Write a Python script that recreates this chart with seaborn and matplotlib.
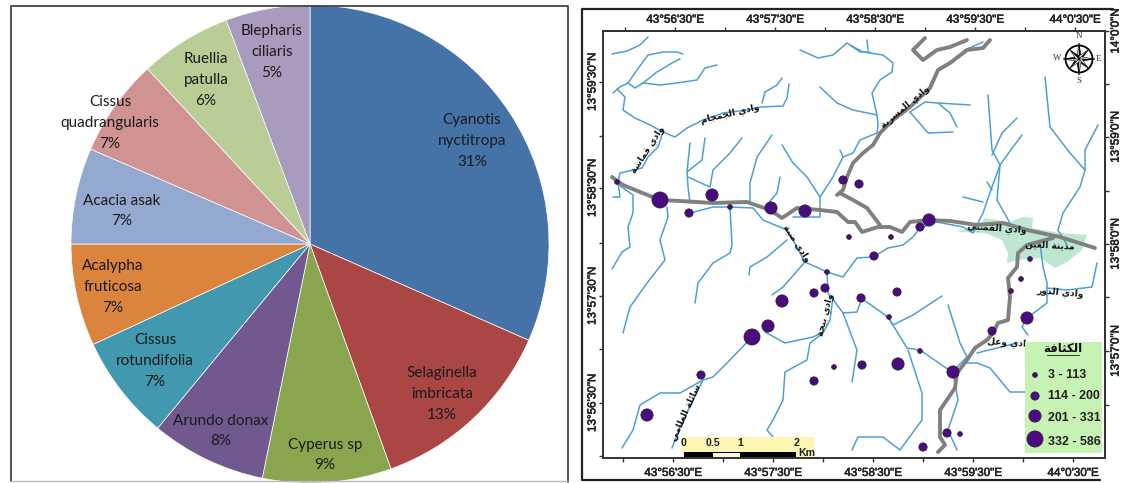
import unicodedata
import numpy as np
import pandas as pd
import seaborn as sns
import matplotlib.pyplot as plt
import matplotlib.patheffects as pe
from matplotlib.patches import Rectangle

# pie values
species = ['Cyanotis\nnyctitropa\n31%', 'Selaginella\nimbricata\n13%', 'Cyperus sp\n9%',
           'Arundo donax\n8%', 'Cissus\nrotundifolia\n7%', 'Acalypha\nfruticosa\n7%',
           'Acacia asak\n7%', 'Cissus\nquadrangularis\n7%', 'Ruellia\npatulla\n6%',
           'Blepharis\nciliaris\n5%']
shares = [31.6, 12.9, 8.7, 7.8, 7.1, 6.9, 6.5, 6.6, 6.2, 5.7]
pie_colors = ['#4572a7', '#aa4643', '#89a54e', '#71588f', '#4198af',
              '#db843d', '#93a9cf', '#d19392', '#b9cd96', '#a99bbd']
# label centres in image pixels
label_x = [472, 442, 325, 221, 155, 113, 122, 110, 206, 272]
label_y = [141, 394, 455, 431, 361, 287, 211, 123, 80, 52]

# rivers, x / y in image pixels of the map
rivers = [
    [(612, 54), (627, 51), (640, 45), (648, 37)],
    [(613, 93), (620, 87), (628, 83), (635, 88), (643, 83), (657, 72), (672, 63), (680, 59)],
    [(628, 83), (637, 70), (648, 55), (663, 52), (677, 52), (683, 54)],
    [(643, 83), (660, 85), (677, 83), (697, 80), (705, 68), (717, 65)],
    [(617, 89), (625, 97), (623, 110), (635, 118), (650, 125), (663, 132), (675, 137), (687, 128),
     (703, 120), (723, 113), (747, 110), (760, 107), (783, 106), (787, 98), (789, 84)],
    [(762, 103), (765, 92), (777, 85), (782, 78)],
    [(663, 132), (658, 147), (648, 157), (642, 168), (620, 173), (618, 183), (620, 197), (613, 197)],
    [(619, 185), (633, 195), (633, 213), (628, 227), (630, 247), (622, 252), (612, 269)],
    [(690, 143), (687, 172), (688, 187), (690, 203)],
    [(705, 138), (702, 160), (687, 172)],
    [(688, 177), (710, 187), (713, 170), (730, 153), (742, 138)],
    [(772, 135), (757, 157), (750, 183), (750, 203)],
    [(780, 177), (777, 193), (765, 207)],
    [(782, 145), (793, 163), (807, 177), (820, 197), (820, 217), (807, 217), (793, 217)],
    [(840, 150), (843, 157), (853, 153), (860, 140), (877, 133), (878, 125), (877, 115), (872, 93),
     (880, 80), (892, 72), (893, 63), (883, 55), (863, 52), (850, 45)],
    [(820, 197), (833, 177), (843, 157)],
    [(667, 207), (668, 217), (660, 240), (665, 260), (647, 283), (630, 307), (623, 333)],
    [(690, 213), (713, 207), (730, 207), (732, 245), (730, 253), (713, 263), (698, 283), (695, 303)],
    [(730, 207), (753, 208), (763, 220), (787, 230), (793, 240), (800, 253), (805, 262), (827, 272),
     (843, 277), (857, 258), (873, 257), (888, 248), (903, 245), (913, 237), (920, 228), (937, 222),
     (963, 227), (973, 233), (983, 213), (992, 187), (1000, 165), (992, 150), (988, 95)],
    [(805, 262), (783, 287), (772, 295)],
    [(787, 240), (767, 257), (750, 267), (749, 275)],
    [(827, 272), (828, 293), (832, 298), (843, 313), (857, 350), (852, 382)],
    [(843, 313), (857, 312), (862, 298)],
    [(833, 297), (830, 320), (823, 333), (810, 343), (807, 360), (785, 372), (783, 400), (773, 420),
     (767, 430), (773, 437)],
    [(765, 332), (785, 343), (813, 337), (823, 332)],
    [(752, 337), (727, 363), (713, 377), (703, 380), (680, 393), (660, 393), (640, 405), (633, 430),
     (622, 448)],
    [(703, 380), (680, 427), (672, 448)],
    [(852, 450), (858, 437), (883, 437), (900, 450), (922, 420), (922, 393), (908, 350)],
    [(861, 298), (888, 317), (907, 348), (920, 350), (952, 372)],
    [(888, 317), (893, 325), (913, 315), (942, 296)],
    [(948, 305), (960, 343), (967, 357), (952, 372)],
    [(963, 363), (977, 363), (990, 368), (1010, 392), (1025, 392)],
    [(953, 373), (958, 400), (948, 430), (957, 450)],
    [(1027, 318), (1022, 327), (1028, 335)],
    [(977, 353), (997, 348), (1017, 343)],
    [(1027, 318), (1047, 303), (1047, 283), (1043, 267), (1040, 243)],
    [(1047, 288), (1067, 290), (1092, 287), (1097, 263)],
    [(800, 50), (818, 58), (833, 55), (847, 43), (860, 52), (870, 52)],
    [(867, 40), (868, 50)],
    [(820, 87), (837, 103), (853, 110), (877, 115)],
    [(910, 112), (925, 102), (938, 103), (970, 105)],
    [(938, 103), (950, 113), (957, 127)],
    [(910, 112), (928, 133), (953, 132)],
    [(992, 155), (1002, 133), (1017, 118)],
    [(1000, 165), (1013, 147), (1022, 135)],
    [(1000, 165), (997, 200), (1010, 223)],
    [(963, 197), (983, 202)],
    [(987, 182), (992, 190)],
    [(1045, 77), (1050, 127), (1070, 153), (1085, 170), (1080, 187), (1063, 213), (1058, 230), (1067, 245)],
    [(1098, 125), (1085, 150), (1085, 170)],
    [(983, 42), (965, 50)],
]
# grey main wadis
wadis = [
    [(612, 177), (623, 185), (640, 192), (660, 200), (680, 201), (713, 203), (747, 202), (770, 210),
     (782, 218), (797, 208), (820, 210), (837, 212), (848, 222), (855, 222), (862, 232), (878, 227),
     (890, 227), (902, 232), (910, 222), (927, 220), (950, 221), (977, 225), (1003, 223), (1027, 230),
     (1060, 237), (1095, 248)],
    [(990, 40), (983, 48), (967, 50), (950, 63), (938, 70), (930, 88), (910, 107), (893, 120), (880, 133),
     (873, 145), (863, 153), (853, 163), (847, 177), (843, 190), (837, 195)],
    [(840, 193), (853, 200), (867, 208), (880, 225)],
    [(967, 40), (950, 47), (937, 50), (923, 60), (913, 50), (925, 38)],
    [(1053, 238), (1027, 245), (1018, 253), (1017, 267), (1008, 278), (1010, 297), (1008, 320), (998, 323),
     (993, 333), (987, 340), (975, 348), (967, 360), (957, 373), (955, 388), (940, 410), (940, 437),
     (945, 445), (938, 452)],
]
city_x = [957, 980, 985, 1010, 1023, 1033, 1032, 1060, 1087, 1082, 1067, 1055, 1040, 1018, 1007, 1008, 1002, 985]
city_y = [232, 224, 218, 222, 217, 218, 228, 233, 235, 250, 262, 268, 258, 260, 263, 253, 240, 233]

# sampling sites, with their density class
site_x = [617, 660, 712, 689, 730, 771, 805, 843, 859, 849, 929, 920, 891, 827, 825, 814, 782, 768, 752,
          861, 862, 834, 814, 701, 647, 874, 897, 889, 898, 920, 953, 923, 947, 960, 992, 1027, 1011, 1021, 1030]
site_y = [182, 200, 195, 213, 207, 208, 211, 180, 184, 237, 220, 227, 237, 272, 288, 293, 301, 326, 337,
          298, 365, 367, 381, 375, 415, 256, 292, 317, 364, 351, 372, 447, 433, 434, 331, 318, 291, 279, 259]
site_class = ['3 - 113', '332 - 586', '201 - 331', '114 - 200', '3 - 113', '201 - 331', '201 - 331',
              '114 - 200', '114 - 200', '3 - 113', '201 - 331', '114 - 200', '3 - 113', '3 - 113', '114 - 200',
              '114 - 200', '201 - 331', '201 - 331', '332 - 586', '114 - 200', '114 - 200', '3 - 113', '114 - 200',
              '114 - 200', '201 - 331', '114 - 200', '114 - 200', '3 - 113', '201 - 331', '3 - 113', '201 - 331',
              '114 - 200', '114 - 200', '3 - 113', '114 - 200', '201 - 331', '3 - 113', '3 - 113', '3 - 113']
class_names = ['3 - 113', '114 - 200', '201 - 331', '332 - 586']
class_area = {'3 - 113': 12, '114 - 200': 36, '201 - 331': 78, '332 - 586': 135}
legend_x = [1035, 1035, 1035, 1035]
legend_y = [375, 396, 416, 439]
text_y = [375, 396, 418, 442]

# name, x, y, rotation
wadi_names = [('وادي الجمجام', 730, 113, 13), ('وادي قماشة', 648, 150, 57), ('وادي المسربة', 905, 107, 40),
              ('وادي القصبي', 997, 228, -4), ('مدينة العين', 1050, 246, -3), ('وادي الدور', 1060, 292, -5),
              ('وادي وعل', 1010, 343, -4), ('وادي ضبة', 797, 243, -57), ('وادي بيحة', 826, 315, 76),
              ('سائلة العلامي', 685, 412, 66)]

lon_ticks = [623, 673, 723, 773, 823, 873, 923, 973, 1023, 1073]
lon_top_ticks = [625, 675, 725, 775, 825, 875, 925, 975, 1025, 1075]
lon_labels = ['', '43°56\'30"E', '', '43°57\'30"E', '', '43°58\'30"E', '', '43°59\'30"E', '', '44°0\'30"E']
lat_left_ticks = [82, 135.5, 188, 243, 296, 349, 403, 456]
lat_left_labels = ['13°59\'30"N', '', '13°58\'30"N', '', '13°57\'30"N', '', '13°56\'30"N', '']
lat_right_ticks = [31, 84, 137, 191, 244, 297, 351, 405, 458]
lat_right_labels = ['14°0\'0"N', '', '13°59\'0"N', '', '13°58\'0"N', '', '13°57\'0"N', '', '13°56\'0"N']


def shape(text):
    # matplotlib does no arabic joining, so pick the forms by hand and lay them out right to left
    no_join = 'ادذرزوةى'
    out = []
    for i, ch in enumerate(text):
        if ch == ' ':
            out.append(ch)
            continue
        before = i > 0 and text[i - 1] != ' ' and text[i - 1] not in no_join
        after = i + 1 < len(text) and text[i + 1] != ' ' and ch not in no_join
        form = {(0, 0): 'ISOLATED', (1, 0): 'FINAL', (0, 1): 'INITIAL', (1, 1): 'MEDIAL'}[(int(before), int(after))]
        out.append(unicodedata.lookup(f'{unicodedata.name(ch)} {form} FORM'))
    return ''.join(out)[::-1]


sns.set_style('white')
plt.rcParams['font.family'] = ['Liberation Sans', 'DejaVu Sans']
W, H = 1127, 483
fig = plt.figure(figsize=(W / 100, H / 100), dpi=100)

# whole-figure layer for the pie labels and the picture frames
bg = fig.add_axes([0, 0, 1, 1])
bg.set_xlim(0, W)
bg.set_ylim(H, 0)
bg.axis('off')
bg.plot([10.5, 10.5, 568, 568], [481, 5.5, 5.5, 483], color='#444444', lw=1.3)
bg.plot([10.5, 568], [481, 481], color='#bbbbbb', lw=1)
bg.plot([1113, 581.5, 581.5, 1100], [9, 9, 480, 480], color='#222222', lw=1.6)

pie_ax = fig.add_axes([71 / W, 1 - 483 / H, 478 / W, 478 / H])
pie_ax.pie(shares, colors=pie_colors, startangle=90, counterclock=False, radius=1,
           wedgeprops={'linewidth': 0.5, 'edgecolor': '#ffffff'})
pie_ax.set_xlim(-1, 1)
pie_ax.set_ylim(-1, 1)
for name, x, y in zip(species, label_x, label_y):
    bg.text(x, y, name, ha='center', va='center', fontsize=11, color='#1a1a1a', family='Lato',
            linespacing=1.6, zorder=5)
bg.set_zorder(3)
bg.patch.set_visible(False)

# map
ax = fig.add_axes([603 / W, 1 - 457.5 / H, 502 / W, 426.5 / H])
ax.set_xlim(603, 1105)
ax.set_ylim(457.5, 31)
ax.set_zorder(4)

ax.fill(city_x, city_y, color='#bde7d0', lw=0, zorder=1)
for r in rivers:
    xs, ys = zip(*r)
    sns.lineplot(x=list(xs), y=list(ys), sort=False, estimator=None, color='#4f9fd0', lw=1.1, ax=ax, zorder=2)
for r in wadis:
    xs, ys = zip(*r)
    sns.lineplot(x=list(xs), y=list(ys), sort=False, estimator=None, color='#808080', lw=2.8, ax=ax, zorder=3)

sites = pd.DataFrame({'x': site_x, 'y': site_y, 'density': site_class})
sns.scatterplot(data=sites, x='x', y='y', size='density', sizes=class_area, size_order=class_names,
                color='#4b0a82', edgecolor='#222222', linewidth=0.5, legend=False, ax=ax, zorder=4)

for name, x, y, rot in wadi_names:
    ax.text(x, y, shape(name), rotation=rot, rotation_mode='anchor', ha='center', va='center',
            fontsize=6.5, fontweight='bold', color='#111111', family='DejaVu Sans', zorder=5)

# density legend panel
ax.add_patch(Rectangle((1025, 342), 77, 111, color='#c6f2b4', lw=0, zorder=6))
ax.text(1063, 349, shape('الكثافة'), ha='center', va='center', fontsize=8.5, fontweight='bold',
        family='DejaVu Sans', color='#111111', zorder=7)
ax.plot([1047, 1079], [355, 355], color='#333333', lw=0.7, zorder=7)
legend_df = pd.DataFrame({'x': legend_x, 'y': legend_y, 'density': class_names})
sns.scatterplot(data=legend_df, x='x', y='y', size='density', sizes=class_area, size_order=class_names,
                color='#4b0a82', edgecolor='#222222', linewidth=0.5, legend=False, ax=ax, zorder=7)
for name, y in zip(class_names, text_y):
    ax.text(1048, y, name, ha='left', va='center', fontsize=8.9, fontweight='bold', color='#222222', zorder=7)

# scale bar
ax.add_patch(Rectangle((682, 437), 132, 20, color='#fdf6b2', lw=0, zorder=6))
ax.add_patch(Rectangle((684, 452), 112, 5, color='#000000', lw=0, zorder=7))
ax.add_patch(Rectangle((713, 453), 27, 3.5, color='#fdf6d0', lw=0, zorder=8))
for lab, x in zip(['0', '0.5', '1', '2'], [684, 713, 740, 796]):
    ax.text(x, 443, lab, ha='center', va='center', fontsize=7.6, fontweight='bold', color='#222222', zorder=8)
ax.text(807, 453, 'Km', ha='center', va='center', fontsize=7.6, fontweight='bold', color='#222222', zorder=8)

# north arrow
cx, cy, rad = 1079, 59, 16
ang = np.deg2rad(np.arange(0, 360, 45))
for i, a in enumerate(ang):
    long_r = rad if i % 2 == 0 else rad * 0.8
    for side, col in [(1, '#000000'), (-1, '#ffffff')]:
        ax.fill([cx, cx + long_r * np.sin(a), cx + 3 * np.sin(a + side * np.pi / 4)],
                [cy, cy - long_r * np.cos(a), cy - 3 * np.cos(a + side * np.pi / 4)],
                fc=col, ec='#000000', lw=0.4, zorder=6)
ax.add_patch(plt.Circle((cx, cy), 13.5, fill=False, ec='#000000', lw=1.3, zorder=6))
for lab, x, y in [('N', 1079, 36), ('S', 1079, 81), ('W', 1057, 58), ('E', 1099, 59)]:
    ax.text(x, y, lab, ha='center', va='center', fontsize=6.5, family='Liberation Serif', color='#333333')

# graticule ticks, the scan is slightly skewed so top and bottom differ
ax.set_xticks(lon_ticks, lon_labels, fontsize=8.4, color='#222222')
ax.set_yticks(lat_left_ticks, lat_left_labels, fontsize=8.4, color='#222222', rotation=90, va='center')
ax.tick_params(axis='x', length=2.8, width=1, color='#333333', pad=4, bottom=True)
ax.tick_params(axis='y', length=2.8, width=1, color='#333333', pad=0.5, left=True)
top = ax.secondary_xaxis('top')
top.set_xticks(lon_top_ticks, lon_labels, fontsize=8.4, color='#222222')
top.tick_params(length=2.8, width=1, color='#333333', pad=1)
right = ax.secondary_yaxis('right')
right.set_yticks(lat_right_ticks, lat_right_labels, fontsize=8.4, color='#222222', rotation=90, va='center')
right.tick_params(length=2.8, width=1, color='#333333', pad=0.5)
fatten = [pe.withStroke(linewidth=0.4, foreground='#222222')]
for lab in ax.get_xticklabels() + ax.get_yticklabels() + top.get_xticklabels() + right.get_yticklabels():
    lab.set_path_effects(fatten)
for sec in (top, right):
    for s in sec.spines.values():
        s.set_linewidth(1.4)
        s.set_color('#333333')
for s in ax.spines.values():
    s.set_visible(True)
    s.set_linewidth(1.4)
    s.set_color('#333333')
ax.set_xlabel('')
ax.set_ylabel('')

fig.savefig('out.png', dpi=100)
